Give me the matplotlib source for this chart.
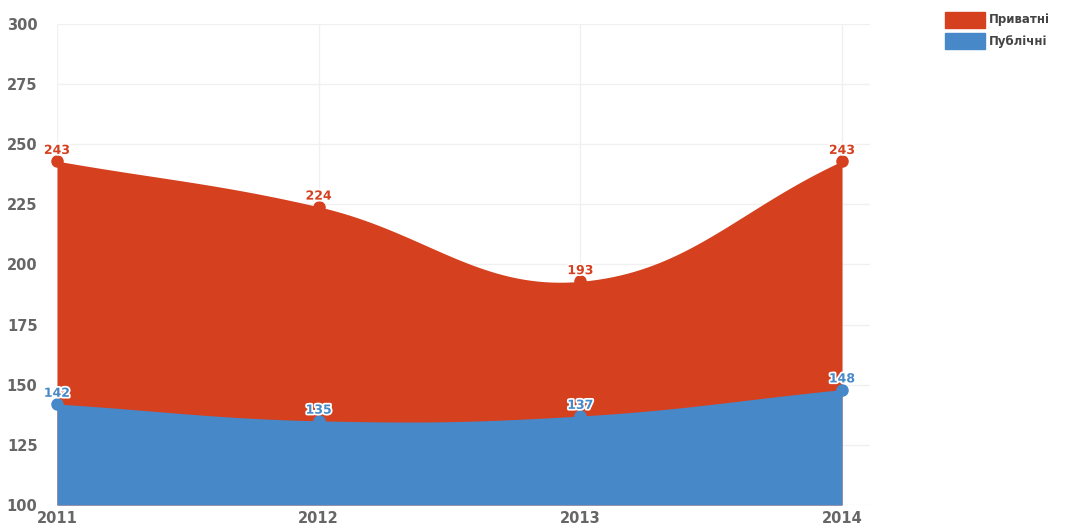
import matplotlib.pyplot as plt
import matplotlib.patheffects as pe
import numpy as np

# Кількість закладів за роками
years = [2011, 2012, 2013, 2014]
private_vals = [243, 224, 193, 243]
public_vals = [142, 135, 137, 148]
series_names = ['Приватні', 'Публічні']
y_ticks = [100, 125, 150, 175, 200, 225, 250, 275, 300]

red = '#D5401F'
blue = '#4788C9'
grid_col = '#F0F0F0'
tick_col = '#666666'


def smooth(ax, xs, ys, tension=0.4, n=40):
    # bezier curve through the points, control points like Chart.js
    pts = ax.transData.transform(np.column_stack([xs, ys]))
    cps = []
    for i in range(len(pts)):
        prev = pts[max(i - 1, 0)]
        cur = pts[i]
        nxt = pts[min(i + 1, len(pts) - 1)]
        d01 = np.hypot(*(cur - prev))
        d12 = np.hypot(*(nxt - cur))
        tot = d01 + d12 if d01 + d12 > 0 else 1
        fa = tension * d01 / tot
        fb = tension * d12 / tot
        cps.append((cur - fa * (nxt - prev), cur + fb * (nxt - prev)))
    out = [pts[0]]
    t = np.linspace(0, 1, n)[1:, None]
    for i in range(len(pts) - 1):
        p0, p3 = pts[i], pts[i + 1]
        p1, p2 = cps[i][1], cps[i + 1][0]
        seg = ((1 - t) ** 3) * p0 + 3 * ((1 - t) ** 2) * t * p1 \
            + 3 * (1 - t) * t ** 2 * p2 + t ** 3 * p3
        out.extend(seg)
    out = ax.transData.inverted().transform(np.array(out))
    return out[:, 0], out[:, 1]


fig = plt.figure(figsize=(10.7, 5.29), dpi=100)
ax = fig.add_axes([57 / 1070, 24 / 529, (870 - 57) / 1070, 481 / 529])
ax.set_xlim(2011, 2014 + 3 * 28 / 785)
ax.set_ylim(100, 300)

for s in ax.spines.values():
    s.set_visible(False)
ax.set_yticks(y_ticks)
ax.set_xticks(years)
ax.grid(True, color=grid_col, linewidth=1)
ax.set_axisbelow(True)
ax.tick_params(length=0, colors=tick_col, labelsize=10.5)
ax.tick_params(axis='y', pad=14)
ax.tick_params(axis='x', pad=4)
for lbl in ax.get_xticklabels() + ax.get_yticklabels():
    lbl.set_fontweight('bold')

sx, sy = smooth(ax, years, private_vals)
ax.fill_between(sx, 100, sy, color=red, linewidth=0, zorder=2)
ax.plot(years, private_vals, 'o', color=red, markersize=8, zorder=3, clip_on=False)

bx, by = smooth(ax, years, public_vals)
ax.fill_between(bx, 100, by, color=blue, linewidth=0, zorder=4)
ax.plot(years, public_vals, 'o', color=blue, markersize=8, zorder=5, clip_on=False)

halo = [pe.withStroke(linewidth=2.5, foreground='white')]
for x, v in zip(years, private_vals):
    ax.annotate(str(v), (x, v), xytext=(0, 3), textcoords='offset points',
                ha='center', va='bottom', color=red, fontsize=9,
                fontweight='bold', path_effects=halo, zorder=6)
for x, v in zip(years, public_vals):
    ax.annotate(str(v), (x, v), xytext=(0, 3), textcoords='offset points',
                ha='center', va='bottom', color=blue, fontsize=9,
                fontweight='bold', path_effects=halo, zorder=6)

# legend in the top right corner
for i, (name, col) in enumerate(zip(series_names, [red, blue])):
    y0 = 1 - (12 + 21 * i) / 529
    fig.patches.append(plt.Rectangle((945 / 1070, y0 - 16 / 529), 40 / 1070, 16 / 529,
                                     transform=fig.transFigure, color=col))
    fig.text(989 / 1070, y0 - 8 / 529, name, ha='left', va='center',
             fontsize=8.5, fontweight='bold', color='#444444')

fig.savefig('out.png', dpi=100)
